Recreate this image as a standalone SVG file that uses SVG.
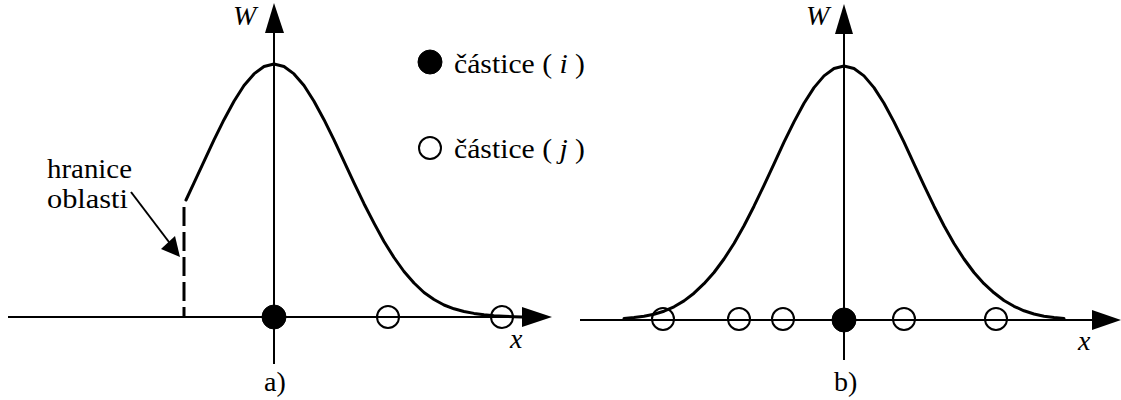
<svg xmlns="http://www.w3.org/2000/svg" width="1121" height="400" viewBox="0 0 1121 400">
<style>
.axis{stroke:#000;stroke-width:2;fill:none}
.curve{stroke:#000;stroke-width:3;fill:none;stroke-linejoin:round;stroke-linecap:round}
.head{fill:#000;stroke:none}
.open{fill:none;stroke:#000;stroke-width:2}
.full{fill:#000;stroke:#000;stroke-width:1}
</style>
<rect width="1121" height="400" fill="#fff"/>
<g id="connectors">
  <line class="axis" x1="8" y1="317" x2="524" y2="317"/>
  <polygon class="head" points="522,307 552,317 522,327"/>
  <line class="axis" x1="274" y1="30" x2="274" y2="364"/>
  <polygon class="head" points="274,3 265,33 284,33"/>
  <polyline class="curve" points="186,200 194,182.9 204,161.4 214,139.9 224,119.7 234,101.2 244,85.5 254,73.9 264,66.5 274,64 284,66.5 294,73.9 304,85.5 314,101.2 324,119.7 334,139.9 344,161.4 354,182.9 364,203.7 374,223.1 384,241.5 394,257.5 404,271.5 414,283 424,292.5 434,299.5 444,305 454,308.8 464,311.5 474,313.4 484,314.8 494,315.7 504,316.3 514,316.7 522,317"/>
  <line x1="184" y1="207" x2="184" y2="318" stroke="#000" stroke-width="3" stroke-dasharray="19,6"/>
  <line x1="131" y1="192" x2="172" y2="246" stroke="#000" stroke-width="2"/>
  <polygon class="head" points="180,257 161,249 175,236"/>
  <line class="axis" x1="580" y1="320" x2="1094" y2="320"/>
  <polygon class="head" points="1092,310 1121,320 1092,330"/>
  <line class="axis" x1="844" y1="30" x2="844" y2="360"/>
  <polygon class="head" points="844,4 835,34 853,34"/>
  <polyline class="curve" points="624,318.5 634,317.6 644,316.3 654,314.3 664,311.2 674,306.8 684,300.9 694,293.2 704,283.7 714,272.5 724,259 734,243.5 744,225.8 754,206.2 764,185.4 774,163.8 784,142.2 794,121.9 804,103.3 814,87.6 824,75.9 834,68.5 844,66 854,68.5 864,75.9 874,87.6 884,103.3 894,121.9 904,142.2 914,163.8 924,185.4 934,206.2 944,225.8 954,243.5 964,259 974,272.5 984,283.7 994,292.8 1004,300.5 1014,306.3 1024,310.8 1034,314 1044,316.2 1054,317.6 1064,318.5"/>
</g>
<g id="particles-a">
  <circle class="full" cx="274" cy="317" r="12"/>
  <circle class="open" cx="388" cy="317" r="11"/>
  <circle class="open" cx="502" cy="317" r="11"/>
</g>
<g id="particles-b">
  <circle class="open" cx="663" cy="319" r="11"/>
  <circle class="open" cx="739" cy="319" r="11"/>
  <circle class="open" cx="783" cy="319" r="11"/>
  <circle class="full" cx="844" cy="320" r="12"/>
  <circle class="open" cx="904" cy="319" r="11"/>
  <circle class="open" cx="996" cy="319" r="11"/>
</g>
<g id="legend">
  <circle class="full" cx="430" cy="62" r="12"/>
  <text font-family="Liberation Serif" font-size="28" x="454" y="73" textLength="131" lengthAdjust="spacingAndGlyphs">částice ( <tspan font-style="italic">i</tspan> )</text>
  <circle class="open" cx="430" cy="148" r="11"/>
  <text font-family="Liberation Serif" font-size="28" x="454" y="158" textLength="131" lengthAdjust="spacingAndGlyphs">částice ( <tspan font-style="italic">j</tspan> )</text>
</g>
<g id="labels">
  <text font-family="Liberation Serif" font-size="28" font-style="italic" x="233" y="25">W</text>
  <text font-family="Liberation Serif" font-size="28" font-style="italic" x="806" y="25">W</text>
  <text font-family="Liberation Serif" font-size="28" font-style="italic" x="510" y="348">x</text>
  <text font-family="Liberation Serif" font-size="28" font-style="italic" x="1078" y="350">x</text>
  <text font-family="Liberation Serif" font-size="28" x="264" y="391">a)</text>
  <text font-family="Liberation Serif" font-size="28" x="834" y="391">b)</text>
  <text font-family="Liberation Serif" font-size="28" x="47" y="178" textLength="85" lengthAdjust="spacingAndGlyphs">hranice</text>
  <text font-family="Liberation Serif" font-size="28" x="47" y="208" textLength="81" lengthAdjust="spacingAndGlyphs">oblasti</text>
</g>
</svg>
